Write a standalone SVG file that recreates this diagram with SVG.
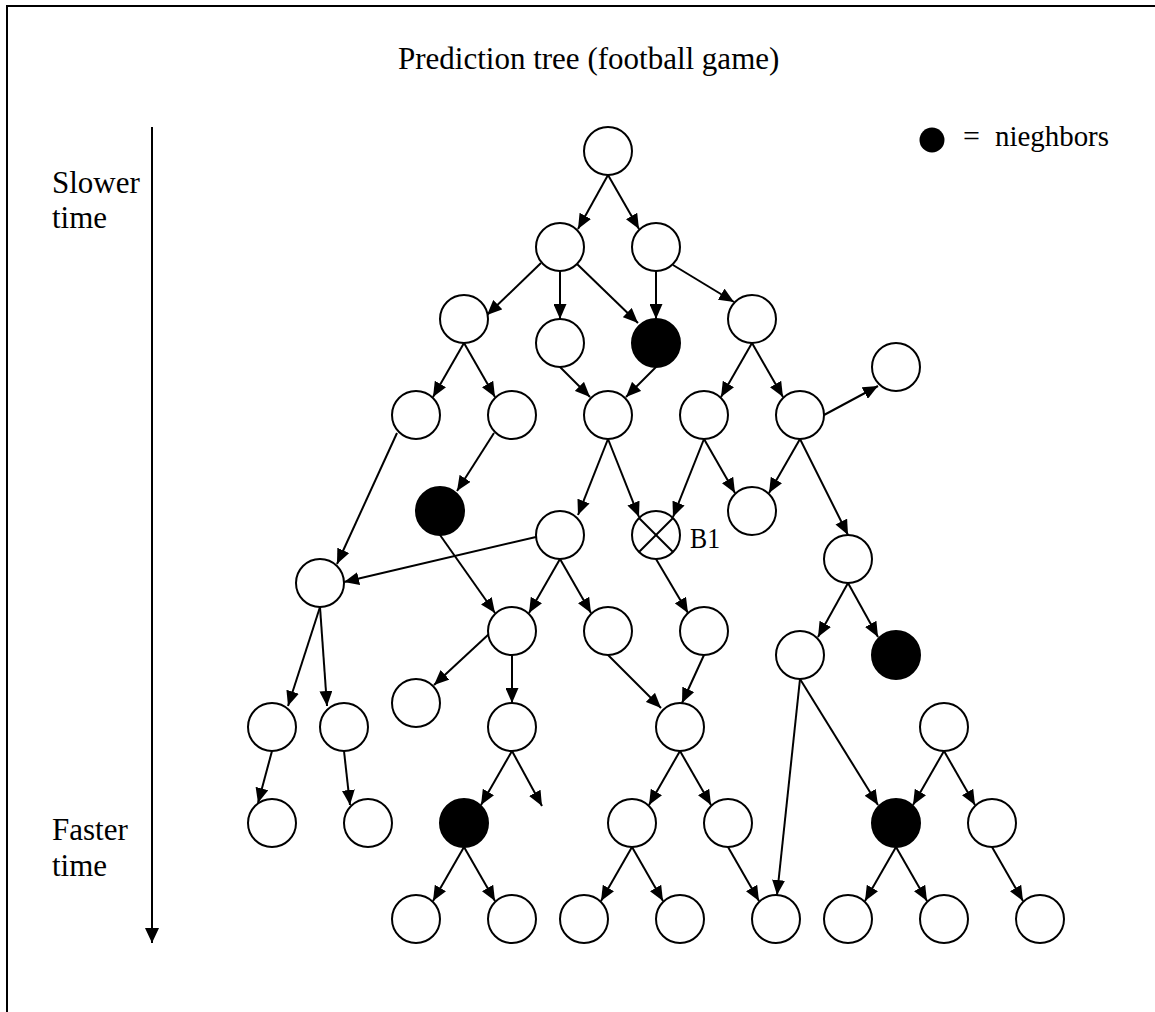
<svg xmlns="http://www.w3.org/2000/svg" width="1155" height="1012" viewBox="0 0 1155 1012">
  <defs>
    <marker id="head" markerUnits="userSpaceOnUse" markerWidth="15" markerHeight="13" refX="15" refY="6.5" orient="auto">
      <path d="M0,0 L15,6.5 L0,13 Z" fill="#000"/>
    </marker>
    <marker id="timehead" markerUnits="userSpaceOnUse" markerWidth="15" markerHeight="14" refX="15" refY="7" orient="auto">
      <path d="M0,0 L15,7 L0,14 Z" fill="#000"/>
    </marker>
  </defs>
  <style>
    .txt { font-family: "Liberation Serif", "Times New Roman", serif; fill: #000; }
    .node circle { fill: #fff; stroke: #000; stroke-width: 2; }
    .node.hit circle { fill: #000; }
    .node line { stroke: #000; stroke-width: 2; }
    .edges line { stroke: #000; stroke-width: 2; marker-end: url(#head); }
    .frame { stroke: #000; stroke-width: 2; fill: none; }
  </style>

  <rect width="1155" height="1012" fill="#fff"/>

  <!-- frame: top and left rules -->
  <path class="frame" d="M7,1012 L7,6 L1155,6"/>

  <!-- title -->
  <text class="txt" x="398" y="69" font-size="31">Prediction tree (football game)</text>

  <!-- legend -->
  <g id="legend">
    <circle cx="932" cy="140" r="12.5" fill="#000"/>
    <text class="txt" x="963" y="146" font-size="30">=</text>
    <text class="txt" x="995" y="146" font-size="30" textLength="114" lengthAdjust="spacingAndGlyphs">nieghbors</text>
  </g>

  <!-- time axis -->
  <g id="time-axis">
    <line x1="152" y1="127" x2="152" y2="943" stroke="#000" stroke-width="2" marker-end="url(#timehead)"/>
    <text class="txt" x="52" y="193" font-size="31">Slower</text>
    <text class="txt" x="52" y="228" font-size="31">time</text>
    <text class="txt" x="52" y="840" font-size="31">Faster</text>
    <text class="txt" x="52" y="876" font-size="31">time</text>
  </g>

  <!-- connectors -->
  <g id="edges" class="edges">
    <line x1="608" y1="175" x2="578" y2="229"/>
    <line x1="608" y1="175" x2="639" y2="229"/>
    <line x1="541" y1="263" x2="487" y2="315"/>
    <line x1="560" y1="271" x2="560" y2="319"/>
    <line x1="577" y1="264" x2="638" y2="323"/>
    <line x1="656" y1="271" x2="656" y2="319"/>
    <line x1="673" y1="265" x2="734" y2="302"/>
    <line x1="464" y1="343" x2="433" y2="397"/>
    <line x1="464" y1="343" x2="495" y2="397"/>
    <line x1="560" y1="367" x2="590" y2="397"/>
    <line x1="656" y1="367" x2="626" y2="397"/>
    <line x1="752" y1="343" x2="721" y2="397"/>
    <line x1="752" y1="343" x2="783" y2="397"/>
    <line x1="824" y1="415" x2="878" y2="386"/>
    <line x1="704" y1="439" x2="673" y2="517"/>
    <line x1="704" y1="439" x2="735" y2="493"/>
    <line x1="800" y1="439" x2="769" y2="493"/>
    <line x1="800" y1="439" x2="848" y2="535"/>
    <line x1="608" y1="439" x2="639" y2="517"/>
    <line x1="608" y1="439" x2="578" y2="515"/>
    <line x1="656" y1="559" x2="688" y2="613"/>
    <line x1="397" y1="433" x2="337" y2="564"/>
    <line x1="494" y1="433" x2="457" y2="491"/>
    <line x1="440" y1="535" x2="495" y2="613"/>
    <line x1="536" y1="537" x2="344" y2="582"/>
    <line x1="560" y1="559" x2="529" y2="613"/>
    <line x1="560" y1="559" x2="591" y2="613"/>
    <line x1="320" y1="607" x2="288" y2="706"/>
    <line x1="320" y1="607" x2="327" y2="706"/>
    <line x1="489" y1="634" x2="434" y2="685"/>
    <line x1="512" y1="655" x2="512" y2="703"/>
    <line x1="608" y1="655" x2="661" y2="708"/>
    <line x1="704" y1="655" x2="682" y2="703"/>
    <line x1="848" y1="583" x2="818" y2="637"/>
    <line x1="848" y1="583" x2="878" y2="637"/>
    <line x1="800" y1="679" x2="777" y2="895"/>
    <line x1="800" y1="679" x2="878" y2="805"/>
    <line x1="944" y1="751" x2="913" y2="805"/>
    <line x1="944" y1="751" x2="975" y2="805"/>
    <line x1="680" y1="751" x2="649" y2="805"/>
    <line x1="680" y1="751" x2="711" y2="805"/>
    <line x1="632" y1="847" x2="601" y2="901"/>
    <line x1="632" y1="847" x2="663" y2="901"/>
    <line x1="728" y1="847" x2="759" y2="901"/>
    <line x1="896" y1="847" x2="865" y2="901"/>
    <line x1="896" y1="847" x2="927" y2="901"/>
    <line x1="992" y1="847" x2="1023" y2="901"/>
    <line x1="272" y1="751" x2="258" y2="803"/>
    <line x1="344" y1="751" x2="350" y2="805"/>
    <line x1="512" y1="751" x2="481" y2="805"/>
    <line x1="512" y1="751" x2="542" y2="806"/>
    <line x1="464" y1="847" x2="433" y2="901"/>
    <line x1="464" y1="847" x2="495" y2="901"/>
  </g>

  <!-- nodes -->
  <g id="n-root" class="node"><circle cx="608" cy="151" r="24"/></g>
  <g id="n-a" class="node"><circle cx="560" cy="247" r="24"/></g>
  <g id="n-b" class="node"><circle cx="656" cy="247" r="24"/></g>
  <g id="n-c" class="node"><circle cx="464" cy="319" r="24"/></g>
  <g id="n-d" class="node"><circle cx="560" cy="343" r="24"/></g>
  <g id="n-e" class="node hit"><circle cx="656" cy="343" r="24"/></g>
  <g id="n-f" class="node"><circle cx="752" cy="319" r="24"/></g>
  <g id="n-g" class="node"><circle cx="896" cy="367" r="24"/></g>
  <g id="n-h" class="node"><circle cx="416" cy="415" r="24"/></g>
  <g id="n-i" class="node"><circle cx="512" cy="415" r="24"/></g>
  <g id="n-j" class="node"><circle cx="608" cy="415" r="24"/></g>
  <g id="n-k" class="node"><circle cx="704" cy="415" r="24"/></g>
  <g id="n-l" class="node"><circle cx="800" cy="415" r="24"/></g>
  <g id="n-m" class="node hit"><circle cx="440" cy="511" r="24"/></g>
  <g id="n-n" class="node"><circle cx="560" cy="535" r="24"/></g>
  <g id="n-b1" class="node">
    <circle cx="656" cy="535" r="24"/>
    <line x1="639" y1="518" x2="673" y2="552"/>
    <line x1="673" y1="518" x2="639" y2="552"/>
    <text class="txt" x="690" y="548" font-size="29" textLength="30" lengthAdjust="spacingAndGlyphs">B1</text>
  </g>
  <g id="n-p" class="node"><circle cx="752" cy="511" r="24"/></g>
  <g id="n-q" class="node"><circle cx="848" cy="559" r="24"/></g>
  <g id="n-r" class="node"><circle cx="320" cy="583" r="24"/></g>
  <g id="n-s" class="node"><circle cx="512" cy="631" r="24"/></g>
  <g id="n-t" class="node"><circle cx="608" cy="631" r="24"/></g>
  <g id="n-u" class="node"><circle cx="704" cy="631" r="24"/></g>
  <g id="n-v" class="node"><circle cx="800" cy="655" r="24"/></g>
  <g id="n-w" class="node hit"><circle cx="896" cy="655" r="24"/></g>
  <g id="n-x" class="node"><circle cx="416" cy="703" r="24"/></g>
  <g id="n-y" class="node"><circle cx="272" cy="727" r="24"/></g>
  <g id="n-z" class="node"><circle cx="344" cy="727" r="24"/></g>
  <g id="n-aa" class="node"><circle cx="512" cy="727" r="24"/></g>
  <g id="n-ab" class="node"><circle cx="680" cy="727" r="24"/></g>
  <g id="n-ac" class="node"><circle cx="944" cy="727" r="24"/></g>
  <g id="n-y1" class="node"><circle cx="272" cy="823" r="24"/></g>
  <g id="n-z1" class="node"><circle cx="368" cy="823" r="24"/></g>
  <g id="n-aa1" class="node hit"><circle cx="464" cy="823" r="24"/></g>
  <g id="n-ab1" class="node"><circle cx="632" cy="823" r="24"/></g>
  <g id="n-ab2" class="node"><circle cx="728" cy="823" r="24"/></g>
  <g id="n-w1" class="node hit"><circle cx="896" cy="823" r="24"/></g>
  <g id="n-ac1" class="node"><circle cx="992" cy="823" r="24"/></g>
  <g id="n-z2" class="node"><circle cx="416" cy="919" r="24"/></g>
  <g id="n-z3" class="node"><circle cx="512" cy="919" r="24"/></g>
  <g id="n-z4" class="node"><circle cx="584" cy="919" r="24"/></g>
  <g id="n-z5" class="node"><circle cx="680" cy="919" r="24"/></g>
  <g id="n-z6" class="node"><circle cx="776" cy="919" r="24"/></g>
  <g id="n-z7" class="node"><circle cx="848" cy="919" r="24"/></g>
  <g id="n-z8" class="node"><circle cx="944" cy="919" r="24"/></g>
  <g id="n-z9" class="node"><circle cx="1040" cy="919" r="24"/></g>
</svg>
